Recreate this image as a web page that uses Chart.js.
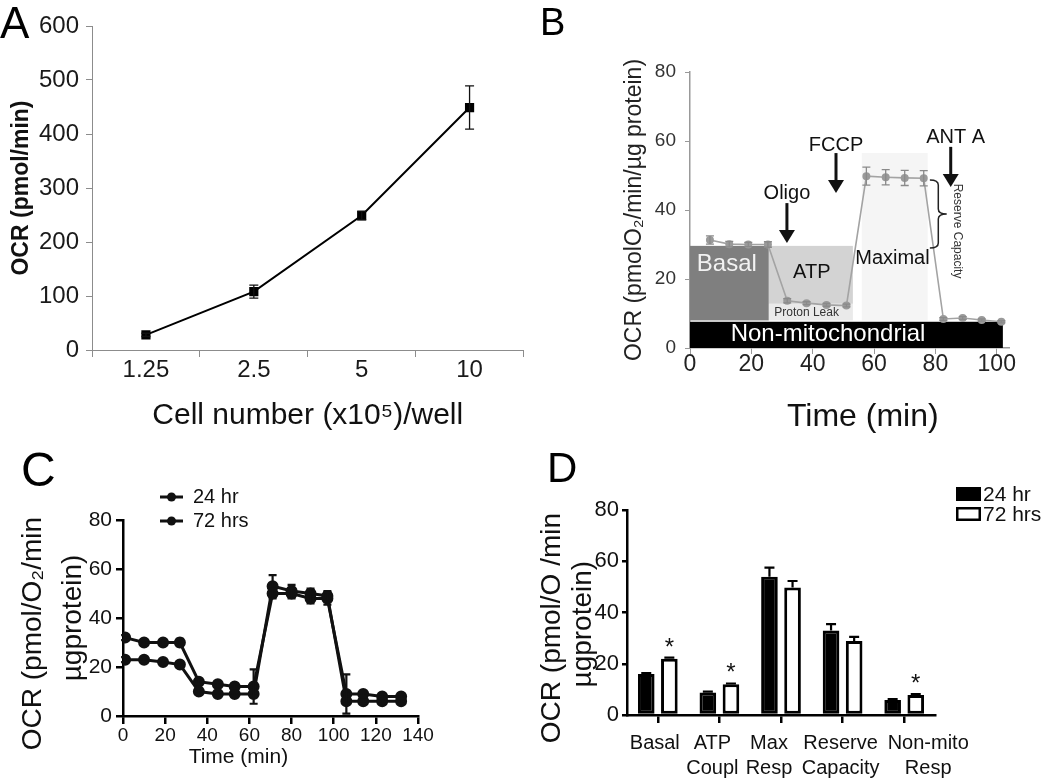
<!DOCTYPE html>
<html>
<head>
<meta charset="utf-8">
<script src="https://cdn.jsdelivr.net/npm/chart.js@4.4.1/dist/chart.umd.min.js"></script>
<style>
  html, body { margin: 0; padding: 0; background: #fff; }
  #wrap { position: relative; width: 1050px; height: 782px; overflow: hidden; }
  canvas { position: absolute; }
  .letter { position: absolute; font-family: 'Liberation Sans', Arial, sans-serif; color: #000; line-height: 1; }
</style>
</head>
<body>
<div id="wrap">
  <canvas id="chartA" width="530" height="440" style="left:0;top:0"></canvas>
  <canvas id="chartB" width="520" height="436" style="left:530px;top:0"></canvas>
  <canvas id="chartC" width="520" height="362" style="left:0;top:420px"></canvas>
  <canvas id="chartD" width="530" height="362" style="left:520px;top:420px"></canvas>
  <div class="letter" style="left:0;top:1px;font-size:44px">A</div>
  <div class="letter" style="left:540px;top:3px;font-size:38px">B</div>
  <div class="letter" style="left:21px;top:446px;font-size:48px">C</div>
  <div class="letter" style="left:547px;top:447px;font-size:42px">D</div>
</div>
<script>
const FONT = "'Liberation Sans', Arial, Helvetica, sans-serif";

// A: OCR vs seeding density
const cellNumbers = ['1.25', '2.5', '5', '10'];
const ocrByCells = [28, 108, 249, 449];
const ocrByCellsErr = [3, 12, 8, 40];

// B: mito stress test profile
const stressTimes = [6.5, 12.8, 19, 25.4, 31.7, 38, 44.5, 51, 57.5, 63.8, 70, 76.2, 82.6, 88.9, 95.1, 101.5];
const stressOcr = [31.3, 30.1, 30, 30, 13.7, 13, 12.5, 12.3, 49.8, 49.5, 49.3, 49.2, 8.4, 8.7, 8.1, 7.6];
const stressErr = [1.2, 0.8, 0.6, 0.8, 0.6, 0.4, 0.4, 0.4, 2.6, 2.2, 2.2, 2.2, 0.4, 0.4, 0.3, 0.3];
const stressRegions = [
  { name: 'basal', t0: 0, t1: 25.7, v0: 8, v1: 29.6 },
  { name: 'atp', t0: 25.7, t1: 53.1, v0: 12.8, v1: 29.6 },
  { name: 'leak', t0: 25.7, t1: 53.1, v0: 8, v1: 12.8 },
  { name: 'maximal', t0: 56, t1: 77.5, v0: 8, v1: 56.5 },
  { name: 'nonmito', t0: 0, t1: 102, v0: 0, v1: 7.6 }
];
const stressLabels = [
  { text: 'Basal', t: 12, v: 24.1 },
  { text: 'ATP', t: 39.7, v: 22 },
  { text: 'Maximal', t: 66, v: 26 },
  { text: 'Proton Leak', t: 38, v: 10.1 },
  { text: 'Non-mitochondrial', t: 45, v: 4 }
];
const injections = [
  { text: 'Oligo', t: 31.6, textT: 31.6, textV: 44.9, from: 42, to: 30.4 },
  { text: 'FCCP', t: 47.6, textT: 47.6, textV: 58.8, from: 56.5, to: 44.9 },
  { text: 'ANT A', t: 85, textT: 86.6, textV: 60.9, from: 58.3, to: 46.7 }
];
const reserveBrace = { t0: 78.2, t1: 83.7, v0: 48.7, v1: 29, text: 'Reserve Capacity', textT: 87.3, textV: 33.9 };

// C: time course 24 hr vs 72 hrs
const timeC = [1, 10, 19, 27, 36, 45, 53, 62, 71, 80, 89, 97, 106, 114, 123, 132];
const ocr24 = [23, 23, 22, 21, 10, 9, 9, 9, 53, 51, 50, 49, 6, 6, 6, 6];
const ocr72 = [32, 30, 30, 30, 14, 13, 12, 12, 50, 50, 48, 48, 9, 9, 8, 8];
const ocr24Err = [1, 0.8, 0.8, 1, 1, 0.8, 0.8, 0.8, 4.5, 2.5, 2, 2, 1, 0.8, 0.8, 0.8];
const ocr72Err = [1, 0.8, 0.8, 1.5, 1, 0.8, 0.8, 7, 2, 2, 2, 2.5, 8, 0.8, 0.8, 0.8];

// D: derived parameters
const paramLabels = [['Basal'], ['ATP', 'Coupl'], ['Max', 'Resp'], ['Reserve', 'Capacity'], ['Non-mito', 'Resp']];
const param24 = [16, 8.8, 54, 33, 5.9];
const param72 = [22, 12, 49.8, 28.9, 7.8];
const param24Err = [0.4, 0.3, 3.5, 2.5, 0.3];
const param72Err = [0.4, 0.3, 2.5, 1.6, 0.4];
const param72Sig = [true, true, false, false, true];

const errorBarPlugin = {
  id: 'errorBars',
  afterDatasetsDraw(chart) {
    const ctx = chart.ctx;
    chart.data.datasets.forEach((ds, i) => {
      if (!ds.errors) return;
      const meta = chart.getDatasetMeta(i);
      const yScale = chart.scales[meta.yAxisID];
      ctx.save();
      ctx.strokeStyle = ds.errorColor || '#000';
      ctx.lineWidth = ds.errorWidth || 1.5;
      meta.data.forEach((el, j) => {
        const err = ds.errors[j];
        if (!err) return;
        const raw = ds.data[j];
        const v = typeof raw === 'object' ? raw.y : raw;
        const hi = yScale.getPixelForValue(v + err);
        const lo = ds.errorUpOnly ? el.y : yScale.getPixelForValue(v - err);
        const cap = ds.errorCap || 4;
        ctx.beginPath();
        ctx.moveTo(el.x, hi); ctx.lineTo(el.x, lo);
        ctx.moveTo(el.x - cap, hi); ctx.lineTo(el.x + cap, hi);
        if (!ds.errorUpOnly) { ctx.moveTo(el.x - cap, lo); ctx.lineTo(el.x + cap, lo); }
        ctx.stroke();
      });
      ctx.restore();
    });
  }
};

function fixWidth(w) { return s => { s.width = w; }; }
function fixHeight(h) { return s => { s.height = h; }; }

const baseOptions = {
  responsive: false,
  animation: false,
  devicePixelRatio: 1,
  events: []
};

// ---------- A ----------
new Chart(document.getElementById('chartA'), {
  type: 'line',
  data: {
    labels: cellNumbers,
    datasets: [{
      data: ocrByCells,
      errors: ocrByCellsErr,
      errorColor: '#111', errorWidth: 1.3, errorCap: 4.5,
      borderColor: '#000', borderWidth: 2,
      pointStyle: 'rect', pointRadius: 6.5,
      pointBackgroundColor: '#000', pointBorderColor: '#000', pointBorderWidth: 0
    }]
  },
  options: {
    ...baseOptions,
    layout: { padding: { left: 0, top: 26, right: 6, bottom: 0 } },
    plugins: { legend: { display: false }, tooltip: { enabled: false } },
    scales: {
      x: {
        offset: true,
        grid: { offset: true, drawOnChartArea: false, tickLength: 7, color: '#8c8c8c' },
        border: { color: '#8c8c8c', width: 1 },
        ticks: { font: { family: FONT, size: 24 }, color: '#1a1a1a', padding: -1, autoSkip: false, maxRotation: 0 },
        title: { display: true, text: 'Cell number (x10\u2075)/well', font: { family: FONT, size: 30 }, color: '#111', padding: { top: 0, bottom: 6 } },
        afterFit: fixHeight(90)
      },
      y: {
        min: 0, max: 600,
        grid: { drawOnChartArea: false, tickLength: 6, color: '#8c8c8c' },
        border: { color: '#8c8c8c', width: 1 },
        ticks: { stepSize: 100, font: { family: FONT, size: 24 }, color: '#1a1a1a', padding: 7 },
        title: { display: true, text: 'OCR (pmol/min)', font: { family: FONT, size: 23, weight: 'bold' }, color: '#111', padding: { top: 8, bottom: 0 } },
        afterFit: fixWidth(92)
      }
    }
  },
  plugins: [errorBarPlugin]
});

// ---------- B ----------
const regionFill = { basal: '#7f7f7f', atp: '#d3d3d3', leak: '#eaeaea', maximal: '#f5f5f5', nonmito: '#000' };
const labelStyle = {
  'Basal': { size: 24, color: '#f2f2f2' },
  'ATP': { size: 20, color: '#111' },
  'Maximal': { size: 20, color: '#111' },
  'Proton Leak': { size: 12, color: '#333' },
  'Non-mitochondrial': { size: 24, color: '#fff' }
};
const stressAnnotations = {
  id: 'stressAnnotations',
  beforeDatasetsDraw(chart) {
    const { ctx, scales: { x, y } } = chart;
    ctx.save();
    stressRegions.forEach(r => {
      const x0 = x.getPixelForValue(r.t0), x1 = x.getPixelForValue(r.t1);
      const y0 = y.getPixelForValue(r.v0), y1 = y.getPixelForValue(r.v1);
      ctx.fillStyle = regionFill[r.name];
      ctx.fillRect(x0, y1, x1 - x0, y0 - y1);
    });
    ctx.textAlign = 'center';
    ctx.textBaseline = 'middle';
    stressLabels.forEach(l => {
      const st = labelStyle[l.text];
      ctx.font = `${st.size}px ${FONT}`;
      ctx.fillStyle = st.color;
      ctx.fillText(l.text, x.getPixelForValue(l.t), y.getPixelForValue(l.v));
    });
    ctx.restore();
  },
  afterDatasetsDraw(chart) {
    const { ctx, scales: { x, y } } = chart;
    ctx.save();
    ctx.fillStyle = '#111';
    ctx.strokeStyle = '#111';
    ctx.textAlign = 'center';
    ctx.textBaseline = 'middle';
    ctx.font = `20px ${FONT}`;
    injections.forEach(a => {
      const px = x.getPixelForValue(a.t);
      const top = y.getPixelForValue(a.from), tip = y.getPixelForValue(a.to);
      ctx.fillText(a.text, x.getPixelForValue(a.textT), y.getPixelForValue(a.textV));
      ctx.lineWidth = 3;
      ctx.beginPath(); ctx.moveTo(px, top); ctx.lineTo(px, tip - 12); ctx.stroke();
      ctx.beginPath();
      ctx.moveTo(px - 8, tip - 13); ctx.lineTo(px + 8, tip - 13); ctx.lineTo(px, tip);
      ctx.closePath(); ctx.fill();
    });
    // reserve capacity brace
    const b = reserveBrace;
    const bx0 = x.getPixelForValue(b.t0), bx1 = x.getPixelForValue(b.t1);
    const yt = y.getPixelForValue(b.v0), yb = y.getPixelForValue(b.v1);
    const xm = (bx0 + bx1) / 2, ym = (yt + yb) / 2;
    ctx.lineWidth = 1.5;
    ctx.strokeStyle = '#222';
    ctx.beginPath();
    ctx.moveTo(bx0, yt);
    ctx.quadraticCurveTo(xm, yt, xm, yt + 5);
    ctx.lineTo(xm, ym - 5);
    ctx.quadraticCurveTo(xm, ym, bx1, ym);
    ctx.quadraticCurveTo(xm, ym, xm, ym + 5);
    ctx.lineTo(xm, yb - 5);
    ctx.quadraticCurveTo(xm, yb, bx0, yb);
    ctx.stroke();
    ctx.translate(x.getPixelForValue(b.textT), y.getPixelForValue(b.textV));
    ctx.rotate(Math.PI / 2);
    ctx.font = `12px ${FONT}`;
    ctx.fillStyle = '#333';
    ctx.fillText(b.text, 0, 0);
    ctx.restore();
  }
};

new Chart(document.getElementById('chartB'), {
  type: 'line',
  data: {
    datasets: [{
      data: stressTimes.map((t, i) => ({ x: t, y: stressOcr[i] })),
      errors: stressErr,
      errorColor: '#8a8a8a', errorWidth: 1.3, errorCap: 4,
      borderColor: '#a3a3a3', borderWidth: 1.6,
      pointRadius: 3.2, pointBackgroundColor: '#9a9a9a', pointBorderColor: '#9a9a9a'
    }]
  },
  options: {
    ...baseOptions,
    layout: { padding: { left: 0, top: 72, right: 41, bottom: 0 } },
    plugins: { legend: { display: false }, tooltip: { enabled: false } },
    scales: {
      x: {
        type: 'linear', min: 0, max: 104,
        grid: { drawOnChartArea: false, tickLength: 6, color: '#999' },
        border: { color: '#999', width: 1.5 },
        ticks: { stepSize: 20, includeBounds: false, font: { family: FONT, size: 23 }, color: '#222', padding: -3, maxRotation: 0 },
        title: { display: true, text: '   Time (min)', font: { family: FONT, size: 32 }, color: '#111', padding: { top: 0, bottom: 0 } },
        afterFit: fixHeight(88)
      },
      y: {
        min: 0, max: 80,
        grid: { drawOnChartArea: false, tickLength: 5, color: '#999' },
        border: { color: '#999', width: 1.5 },
        ticks: { stepSize: 20, font: { family: FONT, size: 19 }, color: '#333', padding: 9 },
        title: { display: true, text: 'OCR (pmolO\u2082/min/\u00b5g protein)', font: { family: FONT, size: 23 }, color: '#222', padding: { top: 91, bottom: 0 } },
        afterFit: fixWidth(160)
      }
    }
  },
  plugins: [stressAnnotations, errorBarPlugin]
});

// ---------- C ----------
const lineLegendPlugin = {
  id: 'lineLegend',
  afterDraw(chart) {
    const { ctx, chartArea } = chart;
    const x0 = chartArea.left + 37, x1 = chartArea.left + 60;
    chart.data.datasets.forEach((ds, i) => {
      const yy = chartArea.top - 23 + i * 24;
      ctx.save();
      ctx.strokeStyle = ds.borderColor; ctx.lineWidth = 3;
      ctx.beginPath(); ctx.moveTo(x0, yy); ctx.lineTo(x1, yy); ctx.stroke();
      ctx.fillStyle = ds.pointBackgroundColor;
      ctx.beginPath(); ctx.arc((x0 + x1) / 2, yy, 4.5, 0, 2 * Math.PI); ctx.fill();
      ctx.font = `20px ${FONT}`; ctx.fillStyle = '#111'; ctx.textBaseline = 'middle';
      ctx.fillText(ds.label, x1 + 10, yy);
      ctx.restore();
    });
  }
};

const cLine = {
  borderColor: '#111', borderWidth: 3,
  pointRadius: 4.5, pointBackgroundColor: '#111', pointBorderColor: '#111',
  errorColor: '#111', errorWidth: 2.2, errorCap: 4
};
new Chart(document.getElementById('chartC'), {
  type: 'line',
  data: {
    datasets: [
      { label: '24 hr', data: timeC.map((t, i) => ({ x: t, y: ocr24[i] })), errors: ocr24Err, ...cLine },
      { label: '72 hrs', data: timeC.map((t, i) => ({ x: t, y: ocr72[i] })), errors: ocr72Err, ...cLine }
    ]
  },
  options: {
    ...baseOptions,
    layout: { padding: { left: 0, top: 100, right: 102, bottom: 0 } },
    plugins: { legend: { display: false }, tooltip: { enabled: false } },
    scales: {
      x: {
        type: 'linear', min: 0, max: 140,
        grid: { drawOnChartArea: false, tickLength: 8, color: '#000', lineWidth: 2.5 },
        border: { color: '#000', width: 2.5 },
        ticks: { stepSize: 20, font: { family: FONT, size: 19 }, color: '#111', padding: 0, autoSkip: false, maxRotation: 0 },
        title: { display: true, text: 'Time (min)           ', font: { family: FONT, size: 21 }, color: '#111', padding: { top: 0, bottom: 12 } },
        afterFit: fixHeight(66)
      },
      y: {
        min: 0, max: 80,
        grid: { drawOnChartArea: false, tickLength: 7, color: '#000', lineWidth: 2.5 },
        border: { color: '#000', width: 2.5 },
        ticks: { stepSize: 20, font: { family: FONT, size: 21 }, color: '#111', padding: 4 },
        title: { display: true, text: ['OCR (pmol/O\u2082/min    ', '\u00b5gprotein)'], font: { family: FONT, size: 28, lineHeight: 1.43 }, color: '#111', padding: { top: 13, bottom: 0 } },
        afterFit: fixWidth(123)
      }
    }
  },
  plugins: [errorBarPlugin, lineLegendPlugin]
});

// ---------- D ----------
// category labels in the figure sit a little off their bar groups
const dLabelShift = [-3, -7, -12, -2, 24];
const barExtras = {
  id: 'barExtras',
  afterDraw(chart) {
    const { ctx, chartArea, scales: { x } } = chart;
    ctx.save();
    // category labels, one line at a time
    ctx.font = `20px ${FONT}`;
    ctx.fillStyle = '#111';
    ctx.textAlign = 'center';
    ctx.textBaseline = 'middle';
    paramLabels.forEach((lines, i) => {
      const px = x.getPixelForTick(i) + dLabelShift[i];
      lines.forEach((line, k) => ctx.fillText(line, px, chartArea.bottom + 28 + k * 25));
    });
    // significance marks over the 72 hrs bars
    const meta = chart.getDatasetMeta(1);
    ctx.font = `24px ${FONT}`;
    ctx.textBaseline = 'alphabetic';
    meta.data.forEach((bar, i) => {
      if (param72Sig[i]) ctx.fillText('*', bar.x, bar.y - 4);
    });
    // legend
    const lx = chartArea.right + 21;
    chart.data.datasets.forEach((ds, i) => {
      const top = chartArea.top - 23 + i * 20;
      ctx.fillStyle = ds.backgroundColor;
      ctx.fillRect(lx, top, 25, 14);
      ctx.strokeStyle = '#000'; ctx.lineWidth = 2.5;
      ctx.strokeRect(lx + 1.25, top + 1.25, 22.5, 11.5);
      ctx.fillStyle = '#111';
      ctx.font = `21px ${FONT}`;
      ctx.textAlign = 'left';
      ctx.textBaseline = 'middle';
      ctx.fillText(ds.label, lx + 27, top + 8);
    });
    ctx.restore();
  }
};

const dBar = { borderColor: '#000', borderWidth: 3, borderSkipped: false, categoryPercentage: 0.75, barPercentage: 0.72,
  errorUpOnly: true, errorColor: '#000', errorWidth: 2.2, errorCap: 5 };
new Chart(document.getElementById('chartD'), {
  type: 'bar',
  data: {
    labels: paramLabels,
    datasets: [
      { label: '24 hr', data: param24, errors: param24Err, backgroundColor: '#000', ...dBar },
      { label: '72 hrs', data: param72, errors: param72Err, backgroundColor: '#fff', ...dBar }
    ]
  },
  options: {
    ...baseOptions,
    layout: { padding: { left: 0, top: 90, right: 115, bottom: 0 } },
    plugins: { legend: { display: false }, tooltip: { enabled: false } },
    scales: {
      x: {
        grid: { offset: false, drawOnChartArea: false, tickLength: 8, color: '#000', lineWidth: 2.5 },
        border: { color: '#000', width: 2.5 },
        ticks: { display: false, autoSkip: false, maxRotation: 0, minRotation: 0 },
        afterFit: fixHeight(67)
      },
      y: {
        min: 0, max: 80,
        grid: { drawOnChartArea: false, tickLength: 5, color: '#000', lineWidth: 2.5 },
        border: { color: '#000', width: 2.5 },
        ticks: { stepSize: 20, font: { family: FONT, size: 22 }, color: '#111', padding: 3 },
        title: { display: true, text: ['OCR (pmol/O /min    ', '\u00b5gprotein)   '], font: { family: FONT, size: 28, lineHeight: 1.1 }, color: '#111', padding: { top: 16.6, bottom: 0 } },
        afterFit: fixWidth(107)
      }
    }
  },
  plugins: [errorBarPlugin, barExtras]
});
</script>
</body>
</html>
